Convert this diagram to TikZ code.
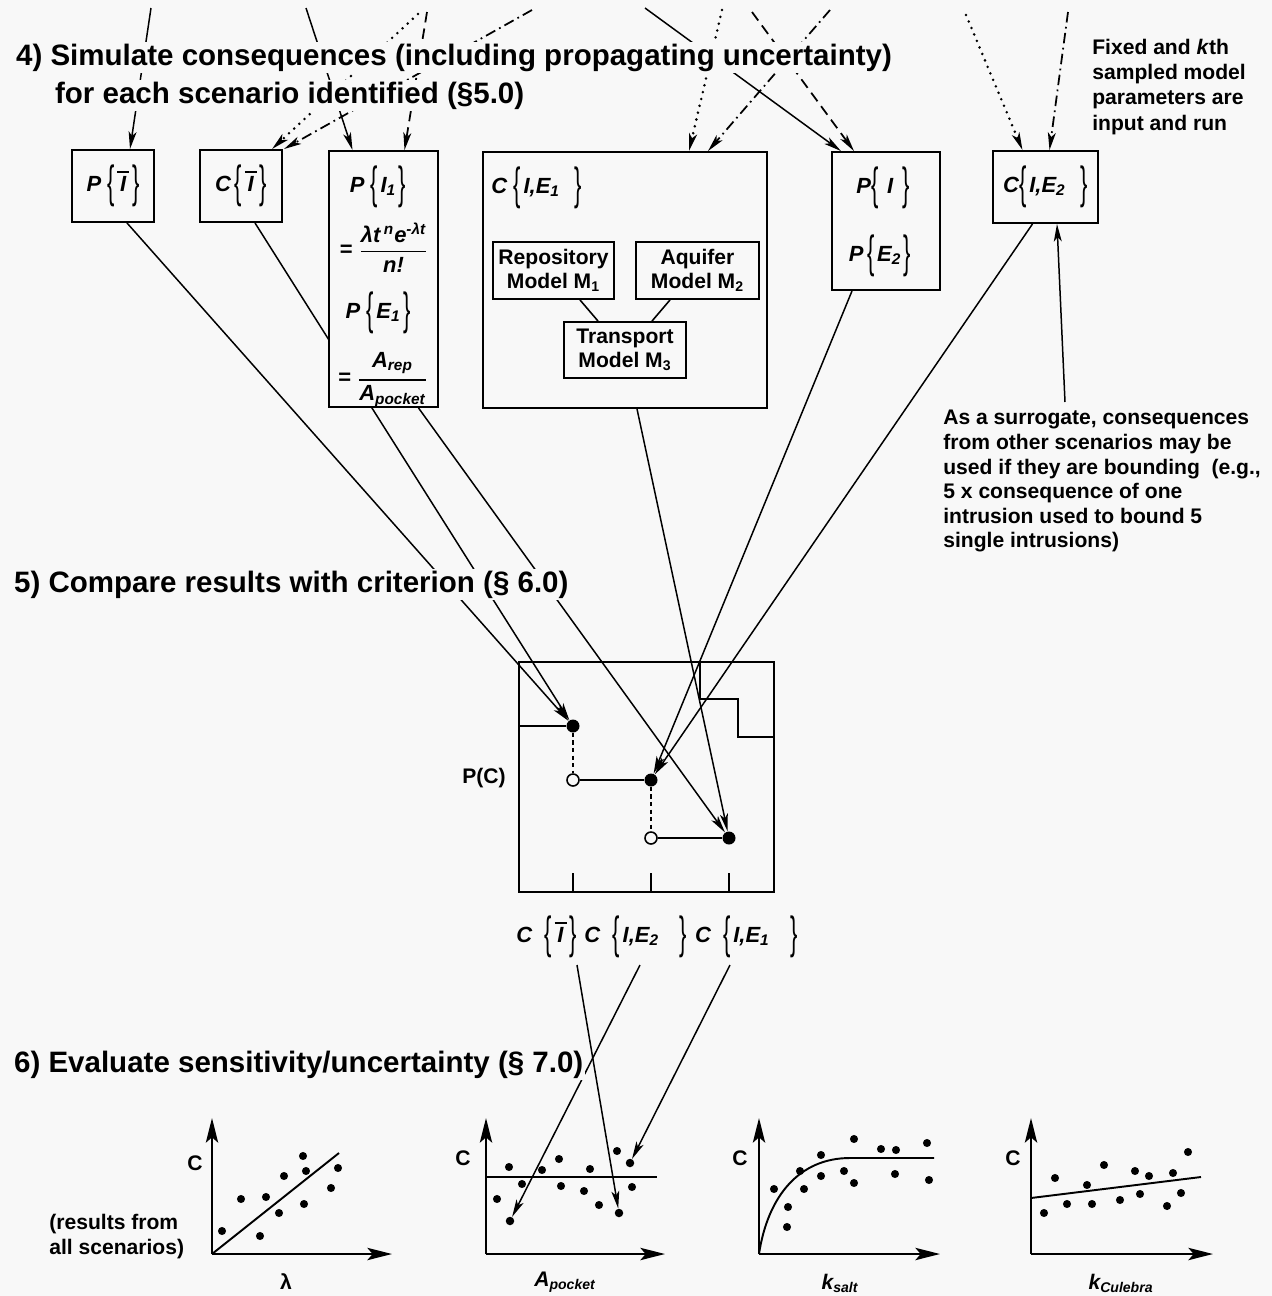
\documentclass[tikz,border=0pt]{standalone}
\usepackage{fontspec}
\setmainfont{Liberation Sans}
\usepackage{amsmath}
\usepackage{graphicx}
\usetikzlibrary{arrows.meta,positioning,calc,backgrounds}
\definecolor{paper}{RGB}{248,248,248}
\newcommand{\mi}[1]{\textbf{\textit{#1}}}
\newcommand{\lbr}{\raisebox{-0.3em}{\scalebox{1}[2.05]{\mdseries\{}}\kern1.5pt}
\newcommand{\rbr}{\kern1.5pt\raisebox{-0.3em}{\scalebox{1}[2.05]{\mdseries\}}}}
\newcommand{\Ibar}{\leavevmode\vbox{\hrule height 1.1pt width 0.55em\kern1.6pt\hbox to 0.55em{\hss\mi{I}\hss}}}

\begin{document}
\begin{tikzpicture}[x=0.02cm,y=-0.02cm,
  font=\fontsize{12}{14}\selectfont\bfseries,
  >={Stealth[length=10pt,width=4.5pt,inset=2.5pt]},
  box/.style={draw,line width=1.1pt,fill=paper,inner sep=0pt,align=center,
    font=\fontsize{12.5}{14}\selectfont\bfseries},
  mbox/.style={box,font=\fontsize{12}{13.6}\selectfont\bfseries},
  hdr/.style={anchor=base west,fill=paper,inner sep=1pt,
    font=\fontsize{16.8}{20}\selectfont\bfseries},
  note/.style={anchor=north west,align=left,inner sep=0pt},
  txt/.style={inner sep=0pt,font=\fontsize{12.5}{14}\selectfont\bfseries},
  conn/.style={->,line width=0.85pt},
  dotarr/.style={conn,line width=1.6pt,line cap=round,dash pattern=on 0pt off 4pt},
  dasharr/.style={conn,line width=1pt,dash pattern=on 6pt off 3.5pt},
  dotdash/.style={conn,line width=1pt,dash pattern=on 6pt off 2.5pt on 1pt off 2.5pt},
  fdot/.style={circle,fill=black,inner sep=0pt,minimum size=0.26cm},
  odot/.style={circle,draw,line width=0.9pt,fill=paper,inner sep=0pt,minimum size=0.24cm},
  pdot/.style={circle,fill=black,inner sep=0pt,minimum size=0.17cm},
  axis/.style={line width=1.3pt,-{Stealth[length=14pt,width=7pt,inset=3pt]}},
  link/.style={line width=0.9pt}]

  \useasboundingbox (0,0) rectangle (1272,1296);
  \begin{scope}[on background layer]
    \fill[paper] (0,0) rectangle (1272,1296);
  \end{scope}

  % headings
  \node[hdr] (h4a) at (14,65) {4) Simulate consequences (including propagating uncertainty)};
  \node[hdr] (h4b) at (53,103) {for each scenario identified (\S5.0)};
  \node[hdr] (h5) at (12,592) {5) Compare results with criterion (\S\ 6.0)};
  \node[hdr] (h6) at (12,1072) {6) Evaluate sensitivity/uncertainty (\S\ 7.0)};

  \node[note,font=\fontsize{12}{14.3}\selectfont\bfseries] (fixed) at (1092,39)
    {Fixed and \textit{k}th\\sampled model\\parameters are\\input and run};

  % scenario boxes
  \node[box,minimum width=1.64cm,minimum height=1.44cm] (pibar) at (113,186) {\mi{P}\ \lbr\Ibar\rbr};
  \node[box,minimum width=1.64cm,minimum height=1.44cm] (cibar) at (241,186) {\mi{C}\,\lbr\Ibar\rbr};
  \node[box,minimum width=2.18cm,minimum height=5.12cm] (pione) at (383.5,279) {};
  \node[txt] (pitext) at (378,187) {\mi{P}\ \lbr\mi{I\textsubscript{1}}\rbr};
  \node[txt] (poisson) at (384,248)
    {= $\genfrac{}{}{1pt}{0}{\mbox{\mi{λt\,\textsuperscript{n}e\textsuperscript{-λt}}}}{\mbox{\mi{n!}}}$};
  \node[txt] (petext) at (378,313) {\mi{P}\ \lbr\mi{E\textsubscript{1}}\rbr};
  \node[txt] (area) at (383,380)
    {= $\genfrac{}{}{1pt}{0}{\mbox{\mi{A\textsubscript{rep}}}}{\mbox{\mi{A\textsubscript{pocket}}}}$};

  \node[box,minimum width=5.68cm,minimum height=5.12cm] (cie1) at (625,280) {};
  \node[txt,anchor=west] (cie1txt) at (491,188) {\mi{C}\ \lbr\mi{I,E\textsubscript{1}}\ \ \rbr};
  \node[mbox,minimum width=2.42cm,minimum height=1.14cm] (repo) at (553.5,270.5) {Repository\\Model M\textsubscript{1}};
  \node[mbox,minimum width=2.46cm,minimum height=1.14cm] (aqui) at (697.5,270.5) {Aquifer\\Model M\textsubscript{2}};
  \node[mbox,minimum width=2.44cm,minimum height=1.12cm] (trans) at (625,350) {Transport\\Model M\textsubscript{3}};
  \draw[link] ($(repo.south)+(26.5,0)$) -- ($(trans.north)+(-27,0)$);
  \draw[link] ($(aqui.south)+(-27.5,0)$) -- ($(trans.north)+(27,0)$);

  \node[box,minimum width=2.16cm,minimum height=2.76cm] (pie) at (886,221) {};
  \node[txt] (pitxt) at (883,188) {\mi{P}\lbr\ \mi{I}\ \rbr};
  \node[txt] (pe2txt) at (880,256) {\mi{P}\,\lbr\mi{E\textsubscript{2}}\rbr};

  \node[box,minimum width=2.1cm,minimum height=1.44cm] (cie2) at (1045.5,187) {\mi{C}\lbr\mi{I,E\textsubscript{2}}\ \ \rbr};

  \node[note] (surr) at (943,410)
    {As a surrogate, consequences\\from other scenarios may be\\used if they are bounding\ \ (e.g.,\\5 x consequence of one\\intrusion used to bound 5\\single intrusions)};

  % CCDF
  \node[draw,line width=1.1pt,minimum width=5.1cm,minimum height=4.6cm,inner sep=0pt] (ccdf) at (646.5,777) {};
  \draw[line width=1.1pt] (700,662) |- (738,699) |- (774,737);
  \node[fdot] (d1) at (573,726) {};
  \node[odot] (o1) at (573,780) {};
  \node[fdot] (d2) at (651,780) {};
  \node[odot] (o2) at (651,838) {};
  \node[fdot] (d3) at (729,838) {};
  \draw[link] (ccdf.west |- d1) -- (d1);
  \draw[line width=1.5pt,dash pattern=on 2.5pt off 1.8pt] (d1) -- (o1);
  \draw[link] (o1) -- (d2);
  \draw[line width=1.5pt,dash pattern=on 2.5pt off 1.8pt] (d2) -- (o2);
  \draw[link] (o2) -- (d3);
  \foreach \n in {d1,d2,d3}
    \draw[line width=1.1pt] (\n |- ccdf.south) -- ++(0,-20);
  \node (pc) at (484,778) {P(C)};
  \node[txt,anchor=west] (l1) at (516,937) {\mi{C}\ \ \lbr\Ibar\rbr};
  \node[txt,right=4pt of l1] (l2) {\mi{C}\ \ \lbr\mi{I,E\textsubscript{2}}\ \ \ \rbr};
  \node[txt,right=4pt of l2] (l3) {\mi{C}\ \ \lbr\mi{I,E\textsubscript{1}}\ \ \ \rbr};

  % sensitivity plots
  \foreach \ox/\tx in {212/392,486/665,759/940,1031/1213}{
    \draw[axis] (\ox,1254) -- (\ox,1118);
    \draw[axis] (\ox,1254) -- (\tx,1254);
  }
  \node (c1) at (195,1163) {C};
  \node (c2) at (463,1158) {C};
  \node (c3) at (740,1158) {C};
  \node (c4) at (1013,1158) {C};
  \node[note] (res) at (49,1214) {(results from\\all scenarios)};
  \node (xl1) at (286,1282) {λ};
  \node (xl2) at (565,1282) {\mi{A\textsubscript{pocket}}};
  \node (xl3) at (840,1283) {\mi{k\textsubscript{salt}}};
  \node (xl4) at (1121,1283) {\mi{k\textsubscript{Culebra}}};

  \draw[link,line width=1.1pt] (212,1254) -- (339,1153);
  \draw[link,line width=1.1pt] (486,1177) -- (657,1177);
  \draw[link,line width=1.1pt] (759,1254) .. controls (768,1195) and (800,1158) .. (850,1158) -- (934,1158);
  \draw[link,line width=1.1pt] (1031,1198) -- (1201,1177);

  \foreach \x/\y in {222/1231,241/1199,260/1236,266/1197,279/1213,284/1176,303/1156,306/1171,304/1204,331/1188,338/1168,
    509/1167,497/1199,522/1184,542/1170,559/1159,561/1186,584/1191,590/1169,599/1205,617/1151,632/1187,
    774/1189,788/1207,787/1227,800/1171,804/1189,821/1155,821/1176,844/1171,854/1139,854/1183,881/1149,896/1150,895/1174,927/1143,929/1180,
    1044/1213,1055/1178,1067/1204,1087/1185,1092/1204,1104/1165,1120/1200,1135/1171,1140/1194,1149/1176,1167/1206,1173/1173,1181/1193,1188/1152}
    \fill (\x,\y) circle (2.3pt);
  \node[pdot] (ap1) at (619,1213) {};
  \node[pdot] (ap2) at (510,1221) {};
  \node[pdot] (ap3) at (630,1163) {};

  % free ends of the incoming parameter lines
  \coordinate (t1) at (151,8);
  \coordinate (t2) at (306,8);
  \coordinate (t3) at (418,14);
  \coordinate (t4) at (532,10);
  \coordinate (t5) at (427,12);
  \coordinate (t6) at (645,8);
  \coordinate (t7) at (722,10);
  \coordinate (t8) at (752,12);
  \coordinate (t9) at (830,10);
  \coordinate (t10) at (966,15);
  \coordinate (t11) at (1068,12);
  \coordinate (s1) at (577,965);
  \coordinate (s2) at (640,965);
  \coordinate (s3) at (730,965);

  \begin{scope}[on background layer]
    \draw[conn] (t1) -- ($(pibar.north)+(17,0)$);
    \draw[conn] (t2) -- ($(pione.north)+(-31,0)$);
    \draw[dotarr] (t3) -- ($(cibar.north)+(31,0)$);
    \draw[dotdash] (t4) -- ($(cibar.north)+(43,0)$);
    \draw[dasharr] (t5) -- ($(pione.north)+(21,0)$);
    \draw[conn] (t6) -- ($(pie.north)+(-45,0)$);
    \draw[dotarr] (t7) -- ($(cie1.north)+(64,0)$);
    \draw[dasharr] (t8) -- ($(pie.north)+(-32,0)$);
    \draw[dotdash] (t9) -- ($(cie1.north)+(83,0)$);
    \draw[dotarr] (t10) -- ($(cie2.north)+(-23,0)$);
    \draw[dotdash] (t11) -- ($(cie2.north)+(4,0)$);

    \draw[conn] ($(pibar.south)+(14,0)$) -- (d1);
    \draw[conn] ($(cibar.south)+(14,0)$) -- (d1);
    \draw[conn] ($(pione.south)+(35,0)$) -- (d3);
    \draw[conn] ($(cie1.south)+(12,0)$) -- (d3);
    \draw[conn] ($(pie.south)+(-34,0)$) -- (d2);
    \draw[conn] ($(cie2.south)+(-13,0)$) -- (d2);
    \draw[conn] ($(surr.north west)+(122,-8)$) -- ($(cie2.south)+(11.5,0)$);

    \draw[conn] (s1) -- (ap1);
    \draw[conn] (s2) -- (ap2);
    \draw[conn] (s3) -- (ap3);
  \end{scope}
\end{tikzpicture}
\end{document}
